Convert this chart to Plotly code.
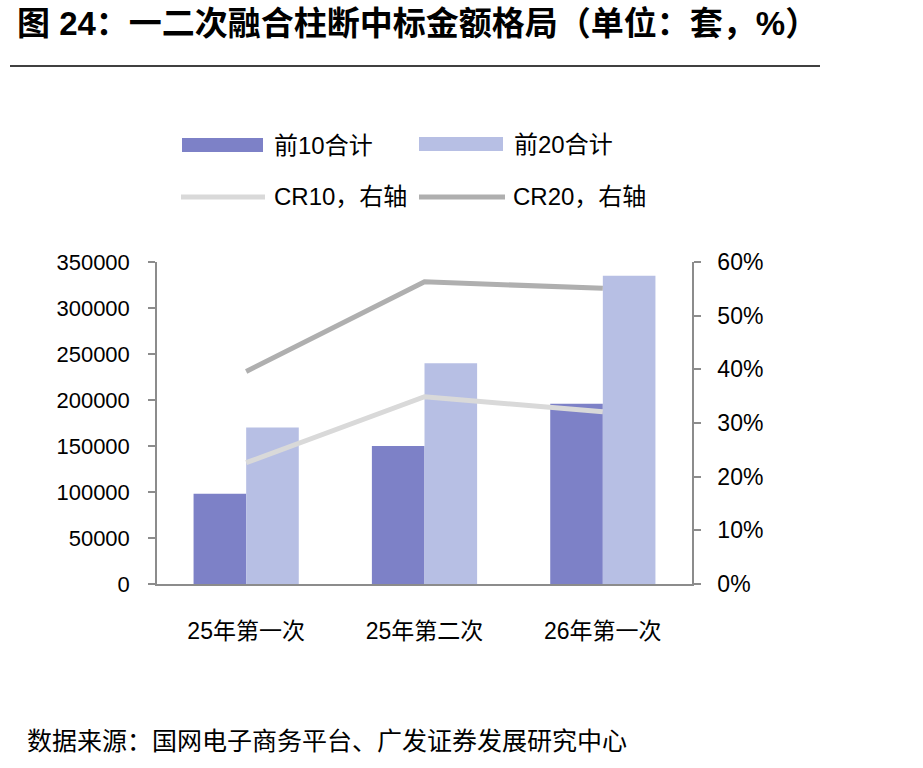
import plotly.graph_objects as go

categories = ["25年第一次", "25年第二次", "26年第一次"]
top10 = [98000, 150000, 196000]
top20 = [170000, 240000, 335000]
cr10 = [22.6, 34.9, 32.1]
cr20 = [39.6, 56.3, 55.1]
left_ticks = [0, 50000, 100000, 150000, 200000, 250000, 300000, 350000]
right_ticks = [0, 10, 20, 30, 40, 50, 60]

C_TOP10 = "#7d81c7"
C_TOP20 = "#b7bfe4"
C_CR10 = "#d9d9d9"
C_CR20 = "#afafaf"
AX = "#8c8c8c"
FONT = "Liberation Sans, Arial, Noto Sans CJK SC, sans-serif"

W, H = 923, 768
L, R, T, B = 157, 692, 262, 584


def px(x):
    return (x - L) / (R - L)


def py(y):
    return (B - y) / (B - T)


fig = go.Figure()
fig.add_trace(go.Bar(x=categories, y=top10, name="前10合计", marker_color=C_TOP10,
                     marker_line_width=0, showlegend=False))
fig.add_trace(go.Bar(x=categories, y=top20, name="前20合计", marker_color=C_TOP20,
                     marker_line_width=0, showlegend=False))
fig.add_trace(go.Scatter(x=categories, y=cr10, name="CR10，右轴", mode="lines",
                         line=dict(color=C_CR10, width=5), yaxis="y2", showlegend=False))
fig.add_trace(go.Scatter(x=categories, y=cr20, name="CR20，右轴", mode="lines",
                         line=dict(color=C_CR20, width=5), yaxis="y2", showlegend=False))

shapes = []
annotations = []

# title and rule
annotations.append(dict(text="<b>图 24：一二次融合柱断中标金额格局（单位：套，%）</b>",
                        x=px(15), y=py(23), xref="paper", yref="paper",
                        xanchor="left", yanchor="middle", showarrow=False,
                        font=dict(size=33, color="#000", family=FONT)))
shapes.append(dict(type="line", xref="paper", yref="paper", x0=px(10), x1=px(820),
                   y0=py(66), y1=py(66), line=dict(color="#000", width=1.5)))

# legend
legend_items = [
    ("rect", C_TOP10, 182, 263, 145, "前10合计", 272),
    ("rect", C_TOP20, 419, 503, 144, "前20合计", 512),
    ("line", C_CR10, 181, 265, 197, "CR10，右轴", 272),
    ("line", C_CR20, 419, 505, 197, "CR20，右轴", 511),
]
for kind, col, x0, x1, yc, label, tx in legend_items:
    if kind == "rect":
        shapes.append(dict(type="rect", xref="paper", yref="paper", x0=px(x0), x1=px(x1),
                           y0=py(yc - 7), y1=py(yc + 7), fillcolor=col, line=dict(width=0)))
    else:
        shapes.append(dict(type="line", xref="paper", yref="paper", x0=px(x0), x1=px(x1),
                           y0=py(yc), y1=py(yc), line=dict(color=col, width=5)))
    annotations.append(dict(text=label, x=px(tx), y=py(yc), xref="paper", yref="paper",
                            xanchor="left", yanchor="middle", showarrow=False,
                            font=dict(size=24, color="#000", family=FONT)))

# source
annotations.append(dict(text="数据来源：国网电子商务平台、广发证券发展研究中心",
                        x=px(25), y=py(741), xref="paper", yref="paper",
                        xanchor="left", yanchor="middle", showarrow=False,
                        font=dict(size=25, color="#000", family=FONT)))

fig.update_layout(
    width=W, height=H,
    margin=dict(l=L, r=W - R, t=T, b=H - B, pad=0),
    paper_bgcolor="white", plot_bgcolor="white",
    barmode="group", bargap=0.41, bargroupgap=0,
    font=dict(family=FONT, size=22, color="#000"),
    showlegend=False,
    shapes=shapes, annotations=annotations,
    xaxis=dict(type="category", showline=True, linecolor=AX, linewidth=1.5,
               ticks="", showgrid=False, ticklabelstandoff=26,
               tickfont=dict(size=23, family=FONT, color="#000")),
    yaxis=dict(range=[0, 350000], tickvals=left_ticks, ticktext=[str(v) for v in left_ticks],
               showline=True, linecolor=AX, linewidth=1.5, ticks="outside", ticklen=7,
               tickcolor=AX, tickwidth=1.5, showgrid=False, zeroline=False,
               ticklabelstandoff=14, tickfont=dict(size=22, family=FONT, color="#000")),
    yaxis2=dict(range=[0, 60], overlaying="y", side="right", tickvals=right_ticks,
                ticktext=[f"{v}%" for v in right_ticks],
                showline=True, linecolor=AX, linewidth=1.5, ticks="outside", ticklen=7,
                tickcolor=AX, tickwidth=1.5, showgrid=False, zeroline=False,
                ticklabelstandoff=12, tickfont=dict(size=23, family=FONT, color="#000")),
)

fig.write_html("out.html")
